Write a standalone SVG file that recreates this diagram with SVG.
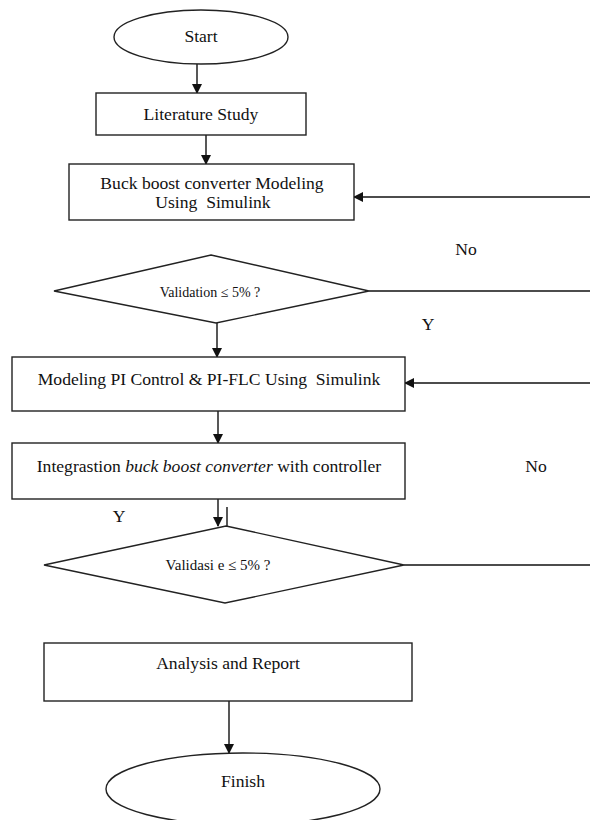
<svg xmlns="http://www.w3.org/2000/svg" width="590" height="820" viewBox="0 0 590 820">
<style>
.s{fill:#fff;stroke:#222;stroke-width:1.4}
.t{font-family:"Liberation Serif","Times New Roman",serif;font-size:17.6px;fill:#111;text-anchor:middle;white-space:pre}
.m{font-size:14px}
.n{font-size:15px}
.c{fill:none;stroke:#111;stroke-width:1.4}
</style>
<defs>
<marker id="a" markerWidth="10" markerHeight="10" refX="9" refY="5" orient="auto" markerUnits="userSpaceOnUse">
<path d="M0,0 L10,5 L0,10 Z" fill="#111"/>
</marker>
</defs>
<g id="connectors">
<line class="c" x1="197" y1="64" x2="197" y2="93" marker-end="url(#a)"/>
<line class="c" x1="206" y1="135" x2="206" y2="164" marker-end="url(#a)"/>
<line class="c" x1="590" y1="197" x2="354" y2="197" marker-end="url(#a)"/>
<line class="c" x1="369" y1="291" x2="590" y2="291"/>
<line class="c" x1="217" y1="323" x2="217" y2="357" marker-end="url(#a)"/>
<line class="c" x1="590" y1="383" x2="405" y2="383" marker-end="url(#a)"/>
<line class="c" x1="218" y1="411" x2="218" y2="443" marker-end="url(#a)"/>
<line class="c" x1="218" y1="499" x2="218" y2="526" marker-end="url(#a)"/>
<line class="c" x1="227" y1="507" x2="227" y2="526"/>
<line class="c" x1="404" y1="565" x2="590" y2="565"/>
<line class="c" x1="229" y1="701" x2="229" y2="753" marker-end="url(#a)"/>
<text class="t" x="466" y="255">No</text>
<text class="t" x="428" y="330">Y</text>
<text class="t" x="536" y="472">No</text>
<text class="t" x="119" y="522">Y</text>
</g>
<g id="start">
<ellipse class="s" cx="201" cy="37" rx="87" ry="27"/>
<text class="t" x="201" y="42">Start</text>
</g>
<g id="literature">
<rect class="s" x="96" y="93" width="210" height="42"/>
<text class="t" x="201" y="120">Literature Study</text>
</g>
<g id="buckboost">
<rect class="s" x="69" y="164" width="285" height="56"/>
<text class="t" x="212" y="189">Buck boost converter Modeling</text>
<text class="t" x="213" y="208">Using  Simulink</text>
</g>
<g id="validation1">
<polygon class="s" points="211,255 369,291 216,323 54,291"/>
<text class="t m" x="210" y="297">Validation ≤ 5% ?</text>
</g>
<g id="modelingpi">
<rect class="s" x="12" y="357" width="393" height="54"/>
<text class="t" x="209" y="385">Modeling PI Control &amp; PI-FLC Using  Simulink</text>
</g>
<g id="integration">
<rect class="s" x="12" y="443" width="393" height="56"/>
<text class="t" x="209" y="472">Integrastion <tspan font-style="italic">buck boost converter</tspan> with controller</text>
</g>
<g id="validation2">
<polygon class="s" points="226,526 404,565 225,603 44,565"/>
<text class="t n" x="218" y="570">Validasi e ≤ 5% ?</text>
</g>
<g id="analysis">
<rect class="s" x="44" y="643" width="368" height="58"/>
<text class="t" x="228" y="669">Analysis and Report</text>
</g>
<g id="finish">
<ellipse class="s" cx="243" cy="789" rx="137" ry="36"/>
<text class="t" x="243" y="787">Finish</text>
</g>
</svg>
